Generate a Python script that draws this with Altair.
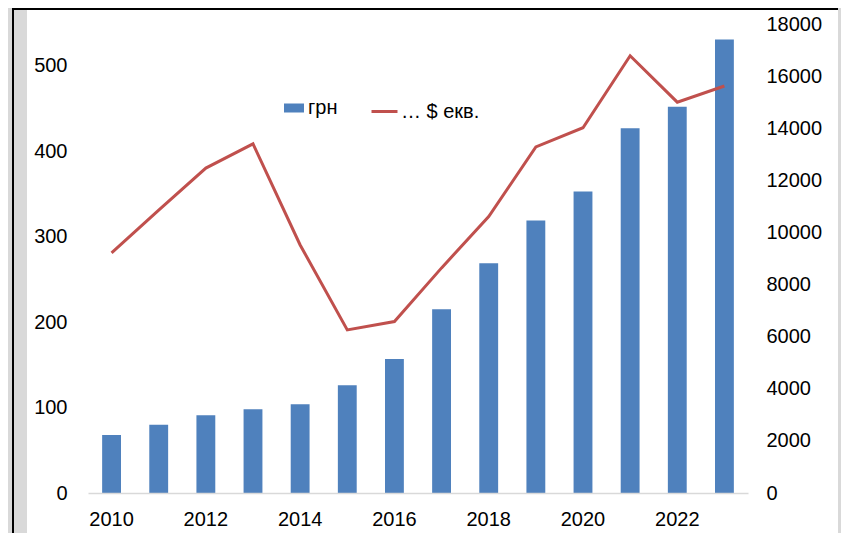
import altair as alt
import pandas as pd

years = ["2010", "2011", "2012", "2013", "2014", "2015", "2016",
         "2017", "2018", "2019", "2020", "2021", "2022", "2023"]
uah = [68, 80, 91, 98, 104, 126, 157, 215, 269, 319, 353, 427, 452, 531]
usd = [9220, 10860, 12470, 13400, 9520, 6260, 6580, 8640, 10610, 13280,
       14020, 16780, 15000, 15620]
x_labels = ["2010", "2012", "2014", "2016", "2018", "2020", "2022"]
left_ticks = [0, 100, 200, 300, 400, 500]
right_ticks = [0, 2000, 4000, 6000, 8000, 10000, 12000, 14000, 16000, 18000]
name_bar = "грн"
name_line = "… $ екв."

df = pd.DataFrame({"year": years, "uah": uah, "usd": usd})
one = pd.DataFrame({"a": [0]})

FONT = "Liberation Sans"
W, H = 660, 469
PAD = {"left": 80, "top": 16, "right": 93, "bottom": 40}
BOTTOM = H + PAD["bottom"]

xenc = alt.X("year:O", title=None,
             scale=alt.Scale(paddingInner=0.6, paddingOuter=0.3),
             axis=alt.Axis(values=x_labels, labelAngle=0, ticks=False, zindex=1,
                           domainColor="#d9d9d9", domainWidth=1.5,
                           labelFontSize=20, labelFont=FONT, labelColor="#000",
                           labelPadding=16))

# decorative frame
white = alt.Chart(one).mark_rect(color="white").encode(
    x=alt.value(-61), x2=alt.value(750), y=alt.value(-14), y2=alt.value(BOTTOM))
left_line = alt.Chart(one).mark_rule(color="black", strokeWidth=2).encode(
    x=alt.value(-75), y=alt.value(-16), y2=alt.value(BOTTOM))
top_line = alt.Chart(one).mark_rule(color="black", strokeWidth=2).encode(
    x=alt.value(-76), x2=alt.value(750), y=alt.value(-15))

bars = alt.Chart(df).transform_calculate(s1=f"'{name_bar}'").mark_bar().encode(
    x=xenc,
    y=alt.Y("uah:Q", title=None,
            scale=alt.Scale(domain=[0, 549], nice=False),
            axis=alt.Axis(orient="left", values=left_ticks, grid=False, ticks=False,
                          domain=False, zindex=1, labelFontSize=20, labelFont=FONT,
                          labelColor="#000", labelPadding=21, format="d")),
    color=alt.Color("s1:N", scale=alt.Scale(domain=[name_bar], range=["#4f81bd"]),
                    legend=alt.Legend(title=None, orient="none", legendX=195, legendY=73,
                                      symbolType="M-1,-0.45H1V0.45H-1Z", symbolSize=400,
                                      labelFontSize=20, labelFont=FONT, labelColor="#000",
                                      labelOffset=3, padding=0)),
)

line = alt.Chart(df).transform_calculate(s2=f"'{name_line}'").mark_line(strokeWidth=3).encode(
    x=xenc,
    y=alt.Y("usd:Q", title=None,
            scale=alt.Scale(domain=[0, 18000], nice=False),
            axis=alt.Axis(orient="right", values=right_ticks, grid=False, ticks=False,
                          domain=False, zindex=1, labelFontSize=20, labelFont=FONT,
                          labelColor="#000", labelPadding=18, format="d")),
    color=alt.Color("s2:N", scale=alt.Scale(domain=[name_line], range=["#c0504d"]),
                    legend=alt.Legend(title=None, orient="none", legendX=282, legendY=73,
                                      symbolType="stroke", symbolSize=676,
                                      symbolStrokeWidth=3,
                                      labelFontSize=20, labelFont=FONT, labelColor="#000",
                                      labelOffset=2, padding=0)),
)

chart = alt.layer(white, left_line, top_line, bars, line).resolve_scale(
    y="independent", color="independent"
).properties(
    width=W, height=H,
    autosize=alt.AutoSizeParams(type="none"),
    padding=PAD,
    background="#d9d9d9",
).configure_view(stroke=None)

chart.save("out.html", embed_options={"renderer": "svg", "actions": False})
